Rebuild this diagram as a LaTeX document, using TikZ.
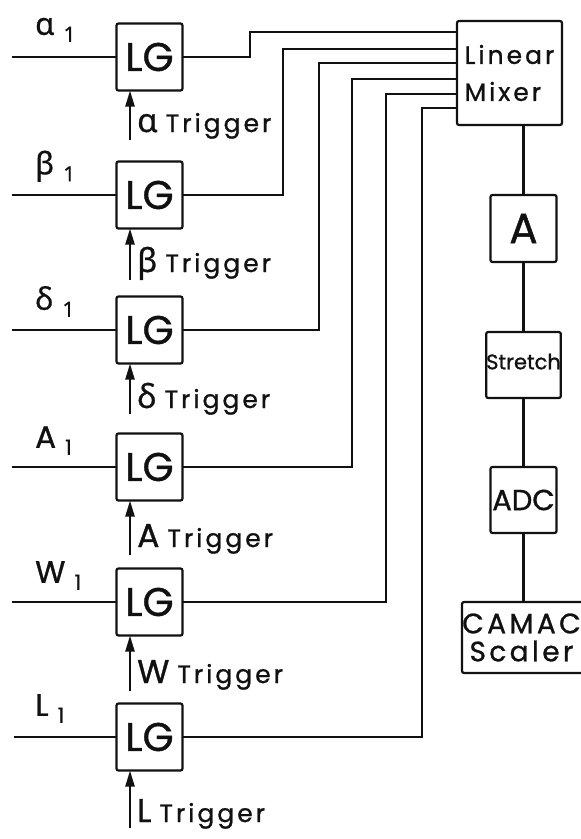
\documentclass[tikz,border=0pt]{standalone}
\usepackage{fontspec}
\setmainfont{Poppins}[FakeBold=1]
\newfontfamily\griego{Noto Sans}[FakeBold=0.6]
\newfontfamily\ancha{Poppins}[LetterSpace=12,FakeBold=1]
\usepackage{tikz}
\usetikzlibrary{arrows.meta,positioning}
\definecolor{negro}{HTML}{111111}
\tikzset{
  caja/.style={draw=negro,line width=2.2pt,rounded corners=2pt,inner sep=0pt,outer sep=0pt,minimum width=66pt,minimum height=67pt,font=\fontsize{40}{40}\selectfont,text=negro},
  linea/.style={draw=negro,line width=2.2pt},
  disparo/.style={draw=negro,line width=2.2pt,-{Triangle[length=16pt,width=9pt]}},
  entrada/.style={anchor=south west,inner sep=0pt,font=\fontsize{31}{31}\selectfont,text=negro},
  gatillo/.style={anchor=base west,inner sep=0pt,font=\ancha\fontsize{25}{25}\selectfont,text=negro},
}
\newcommand\subuno[1]{#1\hspace{9pt}\raisebox{-7pt}{\fontsize{21}{21}\selectfont 1}}
\newcommand\letra[1]{{\fontsize{33}{33}\selectfont#1}\hspace{8pt}}

\begin{document}
\begin{tikzpicture}[x=1pt,y=-1pt]
\useasboundingbox (0,0) rectangle (581,839);
\node[caja] (lg1) at (149.5,57) {LG};
\node[caja] (lg2) at (149.5,195) {LG};
\node[caja] (lg3) at (149.5,330) {LG};
\node[caja] (lg4) at (149.5,467) {LG};
\node[caja] (lg5) at (149.5,602) {LG};
\node[caja] (lg6) at (149.5,737) {LG};
\node[caja,minimum width=105pt,minimum height=104pt,align=left,font=\ancha\fontsize{25}{37}\selectfont] (mix) at (509.5,73) {Linear\\Mixer};
\node[caja,font=\fontsize{42}{42}\selectfont] (amp) at (523.5,228.5) {A};
\node[caja,minimum height=66pt,font=\fontsize{21}{21}\selectfont] (est) at (523.5,365) {\raisebox{7pt}{Stretch}};
\node[caja,minimum height=66pt,font=\fontsize{29}{29}\selectfont] (adc) at (523.5,500) {ADC};
\node[caja,draw=none,minimum width=119pt,minimum height=71pt,align=center,font=\ancha\fontsize{28}{28}\selectfont] (cam) at (521.5,637.5) {CAMAC\\Scaler};
\draw[linea,rounded corners=2pt] (cam.north east) -- (cam.north west) -- (cam.south west) -- (cam.south east);
\coordinate (e1) at (12,57);
\coordinate (e2) at (12,195);
\coordinate (e3) at (12,330);
\coordinate (e4) at (12,467);
\coordinate (e5) at (12,602);
\coordinate (e6) at (14,737);
\draw[linea] (e1) -- (lg1);
\draw[linea] (e2) -- (lg2);
\draw[linea] (e3) -- (lg3);
\draw[linea] (e4) -- (lg4);
\draw[linea] (e5) -- (lg5);
\draw[linea] (e6) -- (lg6);
\node[entrada] (n1) at (35,42) {\subuno{\griego α}};
\node[entrada] (n2) at (35,182) {\subuno{\griego β}};
\node[entrada] (n3) at (35,317) {\subuno{\griego δ}};
\node[entrada] (n4) at (35,455) {\subuno{A}};
\node[entrada] (n5) at (35,590) {\subuno{W}};
\node[entrada] (n6) at (35,723) {\subuno{L}};
\draw[linea] (lg1.east) -| (250,32) -- (250,32 -| mix.west);
\draw[linea] (lg2.east) -| (283,49) -- (283,49 -| mix.west);
\draw[linea] (lg3.east) -| (319,63) -- (319,63 -| mix.west);
\draw[linea] (lg4.east) -| (352,79) -- (352,79 -| mix.west);
\draw[linea] (lg5.east) -| (386,94) -- (386,94 -| mix.west);
\draw[linea] (lg6.east) -| (422,108) -- (422,108 -| mix.west);
\draw[linea] (mix.south -| amp) -- (amp);
\draw[linea] (amp) -- (est);
\draw[linea] (est) -- (adc);
\draw[linea] (adc) -- (cam.north -| adc);
\coordinate (t1) at (130,140);
\coordinate (t2) at (130,280);
\coordinate (t3) at (130,414);
\coordinate (t4) at (130,555);
\coordinate (t5) at (130,691);
\coordinate (t6) at (130,828);
\draw[disparo] (t1) -- (t1 |- lg1.south);
\draw[disparo] (t2) -- (t2 |- lg2.south);
\draw[disparo] (t3) -- (t3 |- lg3.south);
\draw[disparo] (t4) -- (t4 |- lg4.south);
\draw[disparo] (t5) -- (t5 |- lg5.south);
\draw[disparo] (t6) -- (t6 |- lg6.south);
\node[gatillo] (g1) at (137,132) {\letra{\griego α}Trigger};
\node[gatillo] (g2) at (137,272) {\letra{\griego β}Trigger};
\node[gatillo] (g3) at (137,408) {\letra{\griego δ}Trigger};
\node[gatillo] (g4) at (137,547) {\letra{A}Trigger};
\node[gatillo] (g5) at (137,683) {\letra{W}Trigger};
\node[gatillo] (g6) at (137,822) {\letra{L}Trigger};
\end{tikzpicture}
\end{document}
